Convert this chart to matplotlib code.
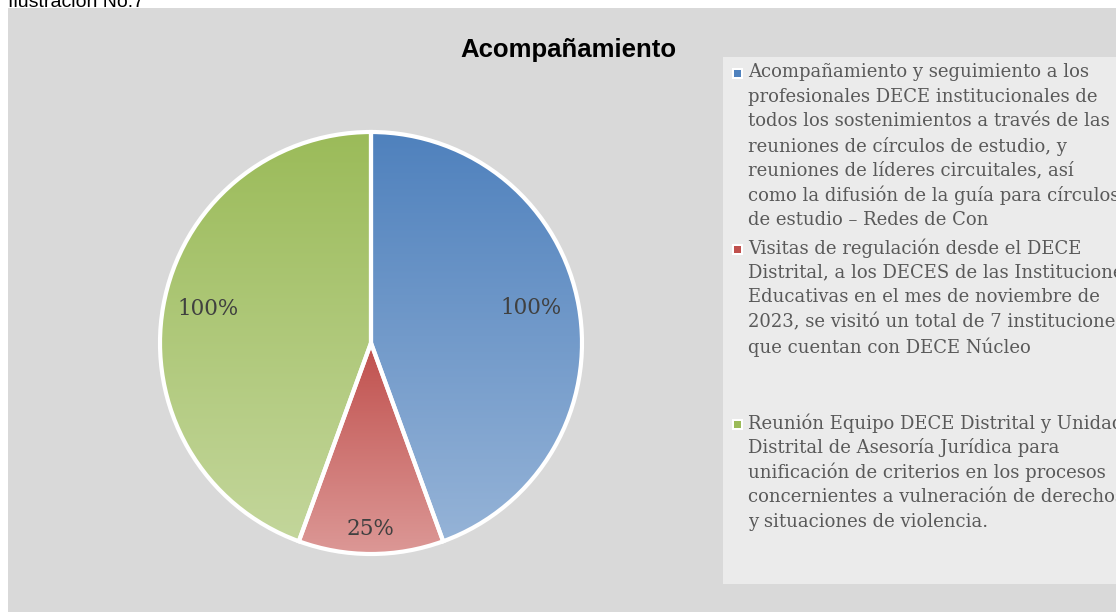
import matplotlib
matplotlib.use("Agg")
import matplotlib.pyplot as plt
import numpy as np
from matplotlib.patches import Rectangle
from matplotlib.colors import LinearSegmentedColormap

# ---- data ----
title = "Acompañamiento"
categories = [
    "Acompañamiento y seguimiento a los\nprofesionales DECE institucionales de\ntodos los sostenimientos a través de las\nreuniones de círculos de estudio, y\nreuniones de líderes circuitales, así\ncomo la difusión de la guía para círculos\nde estudio – Redes de Con",
    "Visitas de regulación desde el DECE\nDistrital, a los DECES de las Instituciones\nEducativas en el mes de noviembre de\n2023, se visitó un total de 7 instituciones\nque cuentan con DECE Núcleo",
    "Reunión Equipo DECE Distrital y Unidad\nDistrital de Asesoría Jurídica para\nunificación de criterios en los procesos\nconcernientes a vulneración de derechos\ny situaciones de violencia.",
]
values = [100, 25, 100]
value_labels = ["100%", "25%", "100%"]

# ---- style ----
top_colors = ["#4f81bd", "#c0504d", "#9bbb59"]
bottom_colors = ["#95b3d7", "#dc9896", "#c3d69b"]
label_dist = [0.776, 0.88, 0.79]
label_dang = [2.3, 0.0, -1.8]
serif = ["DejaVu Serif"]

W, H = 1116, 612
fig = plt.figure(figsize=(W / 100, H / 100), dpi=100)
fig.patch.set_facecolor("white")

def px(x, y, w, h):
    return [x / W, 1 - (y + h) / H, w / W, h / H]

# chart area background
bg = fig.add_axes(px(8, 8, W - 8, H - 8))
bg.set_facecolor("#d9d9d9")
bg.set_xticks([]); bg.set_yticks([])
for s in bg.spines.values():
    s.set_visible(False)

# legend area
lg = fig.add_axes(px(723, 57, W - 723, 527))
lg.set_facecolor("#ebebeb")
lg.set_xlim(0, W - 723); lg.set_ylim(527, 0)
lg.set_xticks([]); lg.set_yticks([])
for s in lg.spines.values():
    s.set_visible(False)

fig.text(8 / W, 1 - 7 / H, "Ilustración No.7", fontsize=14, family="Liberation Sans",
         va="baseline", ha="left", color="black")

fig.text(568 / W, 1 - 57 / H, title, fontsize=18.5, fontweight="bold",
         family="Liberation Sans", ha="center", va="baseline", color="black")

# pie
cx, cy, r = 371, 343, 211
ax = fig.add_axes(px(cx - r, cy - r, 2 * r, 2 * r))
ax.set_facecolor("none")
wedges, _ = ax.pie(values, startangle=90, counterclock=False, radius=1,
                   wedgeprops=dict(edgecolor="white", linewidth=3),
                   colors=top_colors)
ax.set_xlim(-1, 1); ax.set_ylim(-1, 1)
ax.set_aspect("equal")
ax.axis("off")

for w, c0, c1 in zip(wedges, top_colors, bottom_colors):
    verts = w.get_path().vertices
    tr = w.get_patch_transform()
    pts = tr.transform(verts)
    y0, y1 = pts[:, 1].min(), pts[:, 1].max()
    x0, x1 = pts[:, 0].min(), pts[:, 0].max()
    cmap = LinearSegmentedColormap.from_list("g", [c1, c0])
    grad = np.linspace(0, 1, 256).reshape(-1, 1)
    im = ax.imshow(grad, cmap=cmap, extent=[x0, x1, y0, y1], origin="lower",
                   aspect="auto", zorder=1)
    im.set_clip_path(w)
    w.set_facecolor("none")
    w.set_zorder(2)
ax.set_xlim(-1, 1); ax.set_ylim(-1, 1)

total = sum(values)
ang = 90.0
for v, lab, d, da in zip(values, value_labels, label_dist, label_dang):
    span = 360.0 * v / total
    mid = np.deg2rad(ang - span / 2 + da)
    ang -= span
    ax.text(d * np.cos(mid), d * np.sin(mid), lab, ha="center", va="center",
            fontsize=15.5, family=serif, color="#404040", zorder=3)

# legend entries
entry_y = [72, 248, 423]
line_h = 24.7
for cat, yy, c0, c1 in zip(categories, entry_y, top_colors, bottom_colors):
    lg.add_patch(Rectangle((737.5 - 723 - 5.5, yy - 57 - 5.5 + 1), 11, 11,
                           facecolor="white", edgecolor="none"))
    lg.add_patch(Rectangle((737.5 - 723 - 3.5, yy - 57 - 3.5 + 1), 7, 7,
                           facecolor=c0, edgecolor="none"))
    for i, line in enumerate(cat.split("\n")):
        lg.text(748 - 723, yy - 57 + i * line_h, line, ha="left", va="center",
                fontsize=13, family=serif, color="#595959")

fig.savefig("out.png", dpi=100, facecolor="white")
